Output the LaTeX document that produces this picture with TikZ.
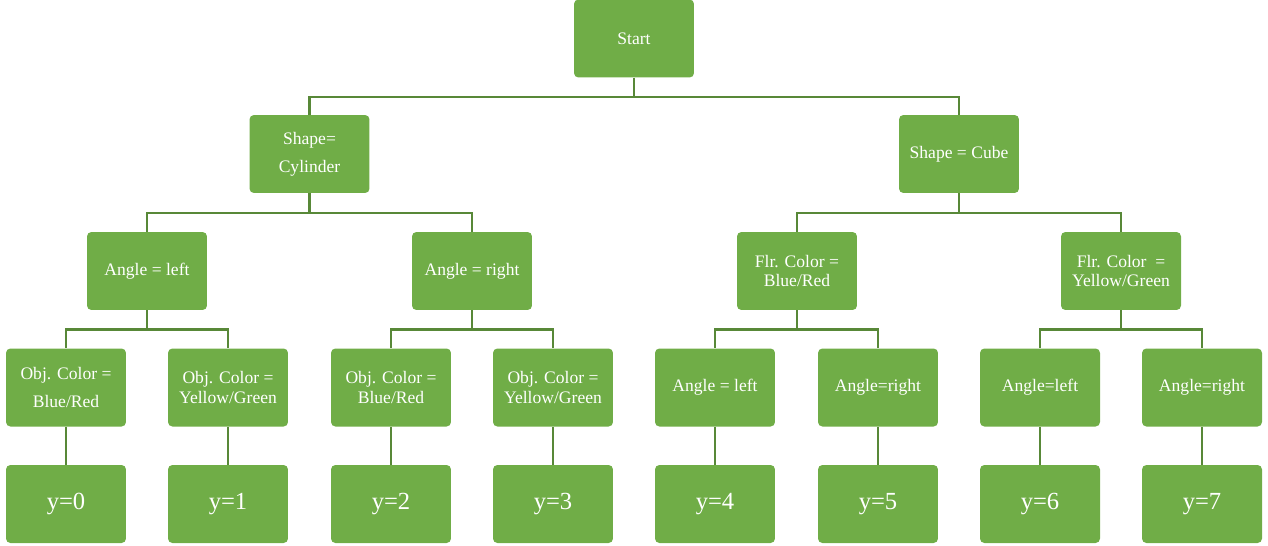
\documentclass[tikz,border=0pt]{standalone}
\usepackage{fontspec}
\setmainfont{Liberation Serif}
\definecolor{boxgreen}{RGB}{112,173,71}
\definecolor{linegreen}{RGB}{88,136,56}

\begin{document}
\begin{tikzpicture}[
  x=0.02cm, y=-0.02cm,
  box/.style={
    rectangle,
    rounded corners=2.5pt,
    fill=boxgreen,
    text=white,
    minimum width=2.4cm,
    minimum height=1.56cm,
    inner sep=1pt,
    align=center,
    font=\fontsize{10}{11}\selectfont},
  leaf/.style={box, font=\fontsize{14}{16}\selectfont},
  link/.style={draw=linegreen, line width=1.5pt}]
  \useasboundingbox (0,0) rectangle (1268,545);

  % root and first split
  \node[box] (start) at (634,38.5) {Start};
  \node[box] (cyl) at (309.5,154) {Shape=\\[5pt]Cylinder};
  \node[box] (cube) at (959,154) {Shape = Cube};

  % second split
  \node[box] (aleft) at (147,271) {Angle = left};
  \node[box] (aright) at (472,271) {Angle = right};
  \node[box] (flrbr) at (797,271) {Flr. Color =\\Blue/Red};
  \node[box] (flryg) at (1121,271) {Flr. Color \ =\\Yellow/Green};

  % third split
  \node[box] (oc1) at (66,387.5) {Obj. Color =\\[5pt]Blue/Red};
  \node[box] (oc2) at (228,387.5) {Obj. Color =\\Yellow/Green};
  \node[box] (oc3) at (391,387.5) {Obj. Color =\\Blue/Red};
  \node[box] (oc4) at (553,387.5) {Obj. Color =\\Yellow/Green};
  \node[box] (an1) at (715,387.5) {Angle = left};
  \node[box] (an2) at (878,387.5) {Angle=right};
  \node[box] (an3) at (1040,387.5) {Angle=left};
  \node[box] (an4) at (1202,387.5) {Angle=right};

  % outputs
  \node[leaf] (y0) at (66,504) {y=0};
  \node[leaf] (y1) at (228,504) {y=1};
  \node[leaf] (y2) at (391,504) {y=2};
  \node[leaf] (y3) at (553,504) {y=3};
  \node[leaf] (y4) at (715,504) {y=4};
  \node[leaf] (y5) at (878,504) {y=5};
  \node[leaf] (y6) at (1040,504) {y=6};
  \node[leaf] (y7) at (1202,504) {y=7};

  \draw[link] (start.south) -- ++(0,19) -| (cyl.north);
  \draw[link] (start.south) -- ++(0,19) -| (cube.north);

  \draw[link] (cyl.south) -- ++(0,19.5) -| (aleft.north);
  \draw[link] (cyl.south) -- ++(0,19.5) -| (aright.north);
  \draw[link] (cube.south) -- ++(0,19.5) -| (flrbr.north);
  \draw[link] (cube.south) -- ++(0,19.5) -| (flryg.north);

  \draw[link] (aleft.south) -- ++(0,19) -| (oc1.north);
  \draw[link] (aleft.south) -- ++(0,19) -| (oc2.north);
  \draw[link] (aright.south) -- ++(0,19) -| (oc3.north);
  \draw[link] (aright.south) -- ++(0,19) -| (oc4.north);
  \draw[link] (flrbr.south) -- ++(0,19) -| (an1.north);
  \draw[link] (flrbr.south) -- ++(0,19) -| (an2.north);
  \draw[link] (flryg.south) -- ++(0,19) -| (an3.north);
  \draw[link] (flryg.south) -- ++(0,19) -| (an4.north);

  \foreach \a/\b in {oc1/y0, oc2/y1, oc3/y2, oc4/y3, an1/y4, an2/y5, an3/y6, an4/y7}
    \draw[link] (\a) -- (\b);
\end{tikzpicture}
\end{document}
